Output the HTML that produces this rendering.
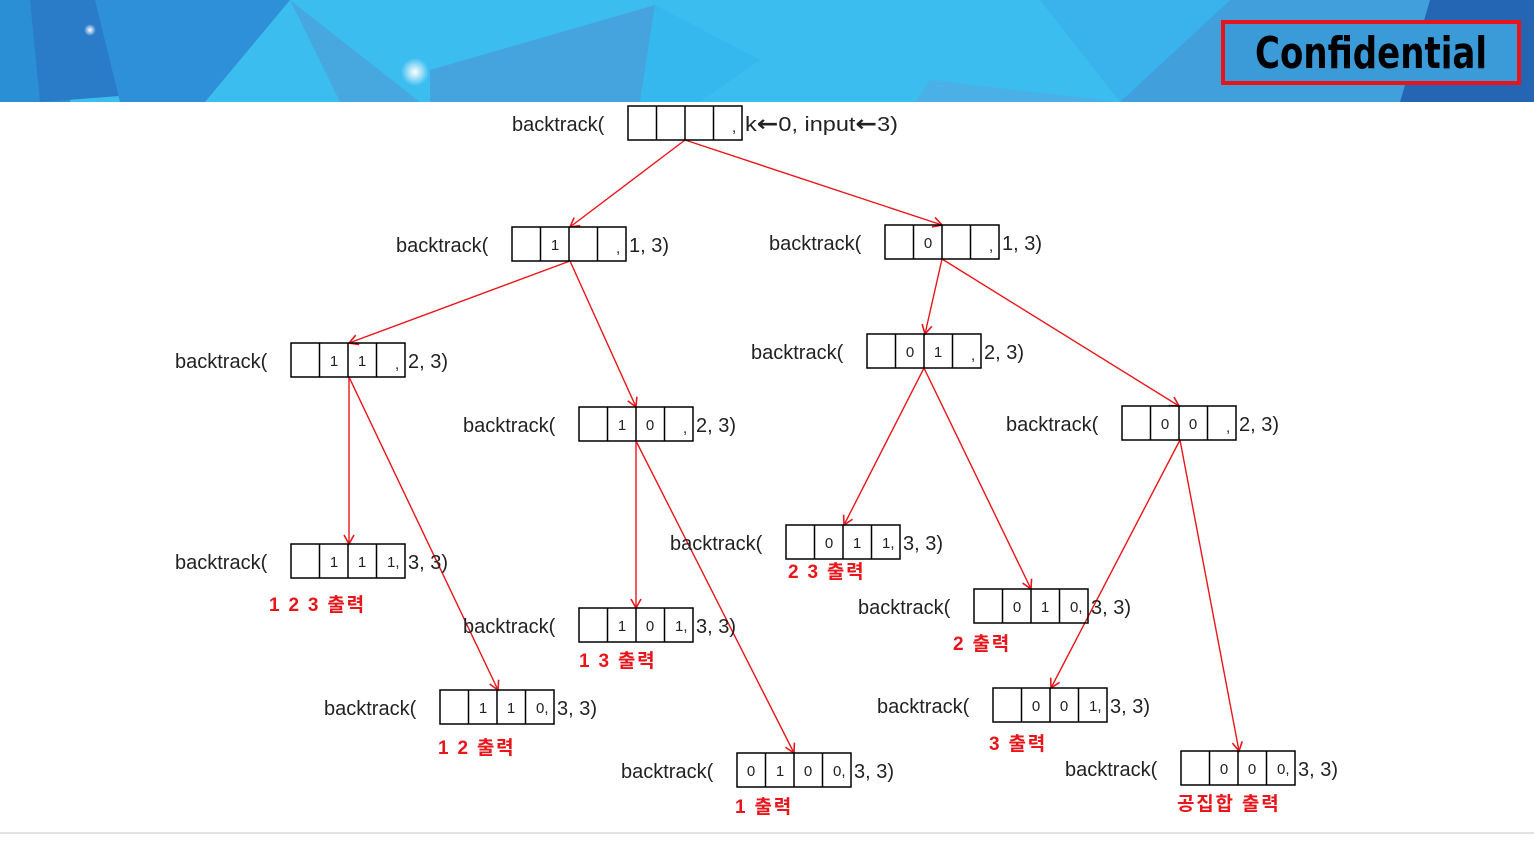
<!DOCTYPE html>
<html><head><meta charset="utf-8"><style>
body{margin:0;background:#fff;width:1534px;height:865px;overflow:hidden}
svg{display:block}
</style></head><body>
<svg width="1534" height="865" viewBox="0 0 1534 865" xmlns="http://www.w3.org/2000/svg" font-family="'Liberation Sans','Noto Sans CJK KR',sans-serif">
<defs>
<marker id="a" markerWidth="12" markerHeight="12" refX="10" refY="6" orient="auto" markerUnits="userSpaceOnUse">
<path d="M1,1 L10,6 L1,11" fill="none" stroke="#e8161b" stroke-width="1.6"/></marker>
<radialGradient id="g1"><stop offset="0" stop-color="#fff"/><stop offset="1" stop-color="#fff" stop-opacity="0"/></radialGradient>
</defs>
<rect x="0" y="0" width="1534" height="102" fill="#3cbdf0"/>
<polygon points="0,0 90,0 70,102 0,102" fill="#2b8fd6"/>
<polygon points="30,0 95,0 200,90 40,102" fill="#2a7cc8"/>
<polygon points="95,0 290,0 205,102 120,102" fill="#2e90d8"/>
<polygon points="290,0 420,102 340,102" fill="#47a8e0"/>
<polygon points="430,70 655,5 640,102 430,102" fill="#45a4de"/>
<polygon points="655,5 760,60 700,102 640,102" fill="#35b8ee"/>
<polygon points="1040,0 1230,0 1120,102" fill="#3ab2ec"/>
<polygon points="1230,0 1430,0 1400,102 1120,102" fill="#41a0dc"/>
<polygon points="1430,0 1534,0 1534,102 1400,102" fill="#2566b4"/>
<polygon points="930,80 1120,102 915,102" fill="#4ab0e6"/>
<circle cx="415" cy="72" r="14" fill="url(#g1)"/>
<circle cx="90" cy="30" r="6" fill="url(#g1)"/>
<rect x="1223" y="22" width="296" height="61" fill="#3b9ad8" stroke="#e8141c" stroke-width="4"/>
<text x="1255" y="68" textLength="232" lengthAdjust="spacingAndGlyphs" font-size="44" font-weight="bold" fill="#000" font-family="'DejaVu Sans',sans-serif">Confidential</text>
<line x1="0" y1="833" x2="1534" y2="833" stroke="#e2e2e2" stroke-width="2"/>
<g stroke="#e8161b" stroke-width="1.4" fill="none" marker-end="url(#a)">
<line x1="685" y1="140" x2="570" y2="227"/>
<line x1="685" y1="140" x2="942" y2="225"/>
<line x1="570" y1="261" x2="349" y2="343"/>
<line x1="570" y1="261" x2="636" y2="407"/>
<line x1="942" y1="259" x2="925" y2="334"/>
<line x1="942" y1="259" x2="1179" y2="406"/>
<line x1="349" y1="377" x2="349" y2="544"/>
<line x1="349" y1="377" x2="498" y2="690"/>
<line x1="636" y1="441" x2="636" y2="608"/>
<line x1="636" y1="441" x2="794" y2="753"/>
<line x1="924" y1="368" x2="844" y2="525"/>
<line x1="924" y1="368" x2="1031" y2="589"/>
<line x1="1180" y1="440" x2="1051" y2="688"/>
<line x1="1180" y1="440" x2="1239" y2="751"/>
</g>
<g font-size="20" fill="#222">
<g transform="translate(628,106)"><rect width="114" height="34" fill="none" stroke="#000" stroke-width="1.5"/><path d="M28.5 0V34M57 0V34M85.5 0V34" stroke="#000" stroke-width="1.5"/><text x="-116" y="25">backtrack(</text><text x="104" y="26" font-size="15">,</text><text x="117" y="25" textLength="153" lengthAdjust="spacingAndGlyphs">k<tspan font-family="'DejaVu Sans',sans-serif" font-weight="bold" font-size="22">←</tspan>0, input<tspan font-family="'DejaVu Sans',sans-serif" font-weight="bold" font-size="22">←</tspan>3)</text></g>
<g transform="translate(512,227)"><rect width="114" height="34" fill="none" stroke="#000" stroke-width="1.5"/><path d="M28.5 0V34M57 0V34M85.5 0V34" stroke="#000" stroke-width="1.5"/><text x="-116" y="25">backtrack(</text><text x="43" y="23" font-size="15" text-anchor="middle">1</text><text x="104" y="26" font-size="15">,</text><text x="117" y="25">1, 3)</text></g>
<g transform="translate(885,225)"><rect width="114" height="34" fill="none" stroke="#000" stroke-width="1.5"/><path d="M28.5 0V34M57 0V34M85.5 0V34" stroke="#000" stroke-width="1.5"/><text x="-116" y="25">backtrack(</text><text x="43" y="23" font-size="15" text-anchor="middle">0</text><text x="104" y="26" font-size="15">,</text><text x="117" y="25">1, 3)</text></g>
<g transform="translate(291,343)"><rect width="114" height="34" fill="none" stroke="#000" stroke-width="1.5"/><path d="M28.5 0V34M57 0V34M85.5 0V34" stroke="#000" stroke-width="1.5"/><text x="-116" y="25">backtrack(</text><text x="43" y="23" font-size="15" text-anchor="middle">1</text><text x="71" y="23" font-size="15" text-anchor="middle">1</text><text x="104" y="26" font-size="15">,</text><text x="117" y="25">2, 3)</text></g>
<g transform="translate(867,334)"><rect width="114" height="34" fill="none" stroke="#000" stroke-width="1.5"/><path d="M28.5 0V34M57 0V34M85.5 0V34" stroke="#000" stroke-width="1.5"/><text x="-116" y="25">backtrack(</text><text x="43" y="23" font-size="15" text-anchor="middle">0</text><text x="71" y="23" font-size="15" text-anchor="middle">1</text><text x="104" y="26" font-size="15">,</text><text x="117" y="25">2, 3)</text></g>
<g transform="translate(579,407)"><rect width="114" height="34" fill="none" stroke="#000" stroke-width="1.5"/><path d="M28.5 0V34M57 0V34M85.5 0V34" stroke="#000" stroke-width="1.5"/><text x="-116" y="25">backtrack(</text><text x="43" y="23" font-size="15" text-anchor="middle">1</text><text x="71" y="23" font-size="15" text-anchor="middle">0</text><text x="104" y="26" font-size="15">,</text><text x="117" y="25">2, 3)</text></g>
<g transform="translate(1122,406)"><rect width="114" height="34" fill="none" stroke="#000" stroke-width="1.5"/><path d="M28.5 0V34M57 0V34M85.5 0V34" stroke="#000" stroke-width="1.5"/><text x="-116" y="25">backtrack(</text><text x="43" y="23" font-size="15" text-anchor="middle">0</text><text x="71" y="23" font-size="15" text-anchor="middle">0</text><text x="104" y="26" font-size="15">,</text><text x="117" y="25">2, 3)</text></g>
<g transform="translate(291,544)"><rect width="114" height="34" fill="none" stroke="#000" stroke-width="1.5"/><path d="M28.5 0V34M57 0V34M85.5 0V34" stroke="#000" stroke-width="1.5"/><text x="-116" y="25">backtrack(</text><text x="43" y="23" font-size="15" text-anchor="middle">1</text><text x="71" y="23" font-size="15" text-anchor="middle">1</text><text x="96" y="23" font-size="15">1,</text><text x="117" y="25">3, 3)</text></g>
<g transform="translate(786,525)"><rect width="114" height="34" fill="none" stroke="#000" stroke-width="1.5"/><path d="M28.5 0V34M57 0V34M85.5 0V34" stroke="#000" stroke-width="1.5"/><text x="-116" y="25">backtrack(</text><text x="43" y="23" font-size="15" text-anchor="middle">0</text><text x="71" y="23" font-size="15" text-anchor="middle">1</text><text x="96" y="23" font-size="15">1,</text><text x="117" y="25">3, 3)</text></g>
<g transform="translate(974,589)"><rect width="114" height="34" fill="none" stroke="#000" stroke-width="1.5"/><path d="M28.5 0V34M57 0V34M85.5 0V34" stroke="#000" stroke-width="1.5"/><text x="-116" y="25">backtrack(</text><text x="43" y="23" font-size="15" text-anchor="middle">0</text><text x="71" y="23" font-size="15" text-anchor="middle">1</text><text x="96" y="23" font-size="15">0,</text><text x="117" y="25">3, 3)</text></g>
<g transform="translate(579,608)"><rect width="114" height="34" fill="none" stroke="#000" stroke-width="1.5"/><path d="M28.5 0V34M57 0V34M85.5 0V34" stroke="#000" stroke-width="1.5"/><text x="-116" y="25">backtrack(</text><text x="43" y="23" font-size="15" text-anchor="middle">1</text><text x="71" y="23" font-size="15" text-anchor="middle">0</text><text x="96" y="23" font-size="15">1,</text><text x="117" y="25">3, 3)</text></g>
<g transform="translate(440,690)"><rect width="114" height="34" fill="none" stroke="#000" stroke-width="1.5"/><path d="M28.5 0V34M57 0V34M85.5 0V34" stroke="#000" stroke-width="1.5"/><text x="-116" y="25">backtrack(</text><text x="43" y="23" font-size="15" text-anchor="middle">1</text><text x="71" y="23" font-size="15" text-anchor="middle">1</text><text x="96" y="23" font-size="15">0,</text><text x="117" y="25">3, 3)</text></g>
<g transform="translate(993,688)"><rect width="114" height="34" fill="none" stroke="#000" stroke-width="1.5"/><path d="M28.5 0V34M57 0V34M85.5 0V34" stroke="#000" stroke-width="1.5"/><text x="-116" y="25">backtrack(</text><text x="43" y="23" font-size="15" text-anchor="middle">0</text><text x="71" y="23" font-size="15" text-anchor="middle">0</text><text x="96" y="23" font-size="15">1,</text><text x="117" y="25">3, 3)</text></g>
<g transform="translate(737,753)"><rect width="114" height="34" fill="none" stroke="#000" stroke-width="1.5"/><path d="M28.5 0V34M57 0V34M85.5 0V34" stroke="#000" stroke-width="1.5"/><text x="-116" y="25">backtrack(</text><text x="14" y="23" font-size="15" text-anchor="middle">0</text><text x="43" y="23" font-size="15" text-anchor="middle">1</text><text x="71" y="23" font-size="15" text-anchor="middle">0</text><text x="96" y="23" font-size="15">0,</text><text x="117" y="25">3, 3)</text></g>
<g transform="translate(1181,751)"><rect width="114" height="34" fill="none" stroke="#000" stroke-width="1.5"/><path d="M28.5 0V34M57 0V34M85.5 0V34" stroke="#000" stroke-width="1.5"/><text x="-116" y="25">backtrack(</text><text x="43" y="23" font-size="15" text-anchor="middle">0</text><text x="71" y="23" font-size="15" text-anchor="middle">0</text><text x="96" y="23" font-size="15">0,</text><text x="117" y="25">3, 3)</text></g>
</g>
<g fill="#e8161b" font-size="19" font-weight="bold" letter-spacing="1.8">
<text x="269" y="611">1 2 3 출력</text>
<text x="788" y="578">2 3 출력</text>
<text x="953" y="650">2 출력</text>
<text x="579" y="667">1 3 출력</text>
<text x="438" y="754">1 2 출력</text>
<text x="989" y="750">3 출력</text>
<text x="735" y="813">1 출력</text>
<text x="1177" y="810">공집합 출력</text>
</g>
</svg>
</body></html>
